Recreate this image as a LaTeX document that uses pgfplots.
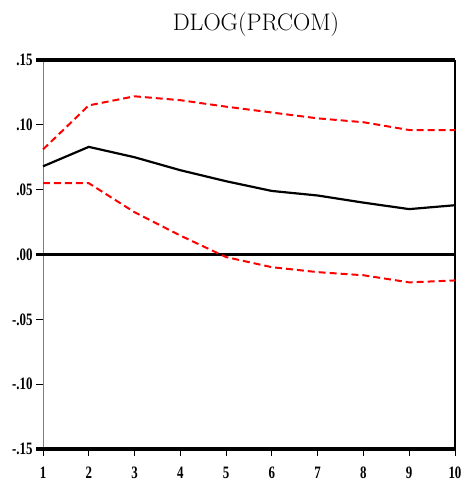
\documentclass[border=0pt]{standalone}
\usepackage{fontspec}
\usepackage{pgfplots}
\pgfplotsset{compat=1.18}
\newfontfamily\tickfont[FakeStretch=0.74]{Liberation Serif}
\begin{document}
\begin{tikzpicture}
\begin{axis}[
  at={(0,0)}, anchor=south west,
  scale only axis,
  width=412bp, height=389bp,
  xmin=1, xmax=10, ymin=-0.15, ymax=0.15,
  axis line style={draw=none},
  xtick={1,2,3,4,5,6,7,8,9,10},
  xticklabels={1,2,3,4,5,6,7,8,9,10},
  ytick={-0.15,-0.10,-0.05,0,0.05,0.10,0.15},
  yticklabels={-.15,-.10,-.05,.00,.05,.10,.15},
  tick align=outside,
  xtick pos=bottom, ytick pos=left,
  major tick length=7bp,
  tick style={black, line width=1pt},
  ticklabel style={font=\tickfont\bfseries\fontsize{17.5}{17.5}\selectfont},
  xticklabel style={inner sep=0pt, anchor=north, yshift=-11bp},
  yticklabel style={xshift=0bp},
  clip=false,
]
\draw[gray, line width=0.8pt] (rel axis cs:0,0) -- (rel axis cs:0,1);
\draw[black, line width=1.2pt] (rel axis cs:1,0) -- (rel axis cs:1,1);
\draw[black, line width=3.5pt] ([xshift=-7bp]rel axis cs:0,1) -- (rel axis cs:1,1);
\draw[black, line width=3.5pt] ([xshift=-7bp]rel axis cs:0,0) -- (rel axis cs:1,0);
\draw[black, line width=2.5pt] ([xshift=-7bp]axis cs:1,0) -- (axis cs:10,0);
\addplot[red, line width=2pt, dash pattern=on 7pt off 4pt] coordinates {
(1,0.081) (2,0.115) (3,0.122) (4,0.119) (5,0.114) (6,0.1095) (7,0.105) (8,0.102) (9,0.096) (10,0.096)};
\addplot[red, line width=2pt, dash pattern=on 7pt off 4pt] coordinates {
(1,0.055) (2,0.055) (3,0.0326) (4,0.0146) (5,-0.002) (6,-0.0098) (7,-0.0136) (8,-0.016) (9,-0.0215) (10,-0.020)};
\addplot[black, line width=2.2pt] coordinates {
(1,0.068) (2,0.083) (3,0.075) (4,0.065) (5,0.0565) (6,0.049) (7,0.0455) (8,0.040) (9,0.035) (10,0.038)};
\end{axis}
\node[anchor=base, font=\fontsize{24}{28}\selectfont, inner sep=0pt] at (213bp,418bp) {DLOG(PRCOM)};
\pgfresetboundingbox
\path (-43bp,-34bp) rectangle (421bp,449bp);
\end{tikzpicture}
\end{document}
